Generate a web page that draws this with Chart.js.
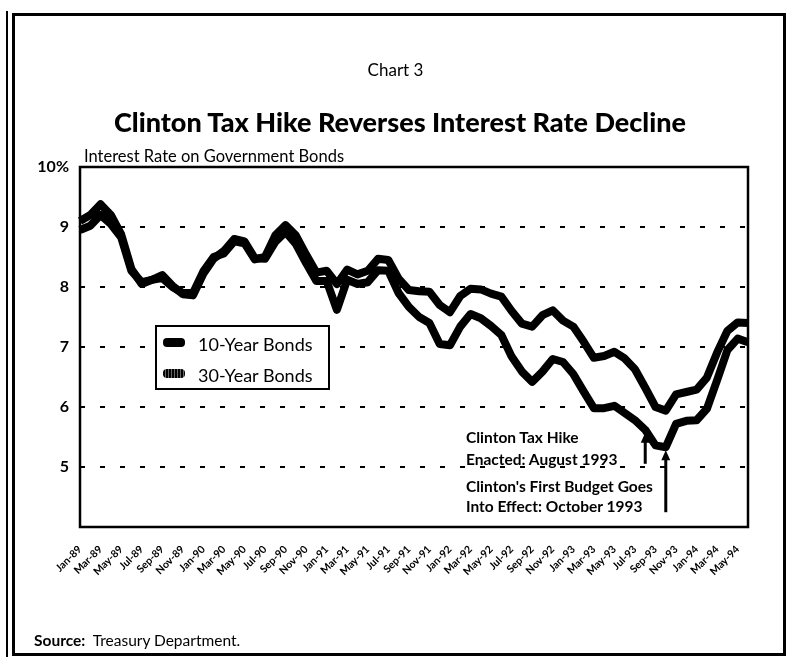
<!DOCTYPE html>
<html>
<head>
<meta charset="utf-8">
<title>Clinton Tax Hike Reverses Interest Rate Decline</title>
<script src="https://cdn.jsdelivr.net/npm/chart.js@4.4.1/dist/chart.umd.min.js"></script>
<style>
  html, body { margin: 0; padding: 0; background: #fff; }
  body { width: 791px; height: 664px; position: relative; overflow: hidden; font-family: Lato, "Open Sans", sans-serif; color: #000; }
  #chart { position: absolute; left: 0; top: 0; }
  .frame { position: absolute; left: 12px; top: 13px; width: 768px; height: 637px; border: 3px solid #000; }
  .frame-edge { position: absolute; left: 6px; top: 11px; width: 2px; height: 646px; background: #000; }
  .txt { position: absolute; white-space: nowrap; line-height: 1; }
  .chart-no { left: 0; width: 791px; text-align: center; top: 61px; font-size: 17px; }
  .title { left: 0; width: 800px; text-align: center; top: 108px; font-size: 27px; font-weight: 900; }
  .axis-title { left: 84px; top: 148px; font-size: 16.5px; }
  .legend { position: absolute; left: 155px; top: 325px; width: 171px; height: 61px; border: 2px solid #000; background: #fff; }
  .legend .row { position: absolute; left: 0; height: 20px; }
  .legend .swatch { position: absolute; left: 6px; top: 6px; width: 22px; height: 9px; border-radius: 4px; background: #000; }
  .legend .swatch.hatch { background: repeating-linear-gradient(90deg, #000 0 2px, #666 2px 3px); }
  .legend .label { position: absolute; left: 41px; top: 1px; font-size: 18px; white-space: nowrap; }
  .note { left: 466px; font-size: 15.5px; font-weight: bold; }
  .source { left: 34px; top: 633px; font-size: 15.5px; }
</style>
</head>
<body>
<canvas id="chart" width="791" height="664"></canvas>
<div class="frame-edge"></div>
<div class="frame"></div>

<div class="txt chart-no">Chart 3</div>
<div class="txt title">Clinton Tax Hike Reverses Interest Rate Decline</div>
<div class="txt axis-title">Interest Rate on Government Bonds</div>

<div class="legend">
  <div class="row" style="top:5px"><div class="swatch"></div><div class="label">10-Year Bonds</div></div>
  <div class="row" style="top:36px"><div class="swatch hatch"></div><div class="label">30-Year Bonds</div></div>
</div>

<div class="txt note" style="top:430px">Clinton Tax Hike</div>
<div class="txt note" style="top:452px">Enacted: August 1993</div>
<div class="txt note" style="top:479px">Clinton's First Budget Goes</div>
<div class="txt note" style="top:499px">Into Effect: October 1993</div>

<div class="txt source"><b>Source:</b>&nbsp; Treasury Department.</div>

<script>
// monthly averages, Jan-89 .. Jun-94
const months = [
  'Jan-89', 'Feb-89', 'Mar-89', 'Apr-89', 'May-89', 'Jun-89', 'Jul-89', 'Aug-89', 'Sep-89', 'Oct-89', 'Nov-89', 'Dec-89',
  'Jan-90', 'Feb-90', 'Mar-90', 'Apr-90', 'May-90', 'Jun-90', 'Jul-90', 'Aug-90', 'Sep-90', 'Oct-90', 'Nov-90', 'Dec-90',
  'Jan-91', 'Feb-91', 'Mar-91', 'Apr-91', 'May-91', 'Jun-91', 'Jul-91', 'Aug-91', 'Sep-91', 'Oct-91', 'Nov-91', 'Dec-91',
  'Jan-92', 'Feb-92', 'Mar-92', 'Apr-92', 'May-92', 'Jun-92', 'Jul-92', 'Aug-92', 'Sep-92', 'Oct-92', 'Nov-92', 'Dec-92',
  'Jan-93', 'Feb-93', 'Mar-93', 'Apr-93', 'May-93', 'Jun-93', 'Jul-93', 'Aug-93', 'Sep-93', 'Oct-93', 'Nov-93', 'Dec-93',
  'Jan-94', 'Feb-94', 'Mar-94', 'Apr-94', 'May-94', 'Jun-94'
];

const tenYear = [
  9.10, 9.20, 9.38, 9.20, 8.88, 8.30, 8.05, 8.12, 8.20, 8.02, 7.88, 7.86,
  8.22, 8.47, 8.60, 8.80, 8.76, 8.48, 8.47, 8.75, 8.92, 8.72, 8.40, 8.10,
  8.10, 7.62, 8.12, 8.05, 8.08, 8.28, 8.27, 7.90, 7.67, 7.50, 7.40, 7.05,
  7.03, 7.34, 7.55, 7.48, 7.35, 7.20, 6.84, 6.59, 6.42, 6.59, 6.80, 6.75,
  6.55, 6.26, 5.98, 5.98, 6.02, 5.90, 5.78, 5.62, 5.36, 5.33, 5.72, 5.77,
  5.78, 5.97, 6.45, 6.95, 7.14, 7.08
];

const thirtyYear = [
  8.95, 9.02, 9.20, 9.05, 8.83, 8.27, 8.08, 8.12, 8.15, 8.00, 7.90, 7.90,
  8.26, 8.50, 8.56, 8.76, 8.73, 8.46, 8.50, 8.86, 9.03, 8.86, 8.54, 8.24,
  8.27, 8.05, 8.29, 8.21, 8.27, 8.47, 8.45, 8.14, 7.95, 7.93, 7.92, 7.70,
  7.58, 7.85, 7.97, 7.96, 7.89, 7.84, 7.60, 7.39, 7.34, 7.53, 7.61, 7.44,
  7.34, 7.09, 6.82, 6.85, 6.92, 6.81, 6.63, 6.32, 6.00, 5.94, 6.21, 6.25,
  6.29, 6.49, 6.91, 7.27, 7.41, 7.40
];

const rateMin = 4;
const rateMax = 10;

// months marked with arrows under the 10-year line
const arrowMonths = ['Aug-93', 'Oct-93'];

// box round the plot area
const plotFrame = {
  id: 'plotFrame',
  afterDraw(chart) {
    const { ctx, chartArea: a } = chart;
    ctx.save();
    ctx.strokeStyle = '#000';
    ctx.lineWidth = 2.5;
    ctx.strokeRect(a.left, a.top, a.right - a.left, a.bottom - a.top);
    ctx.restore();
  }
};

// upward arrows pointing at the policy dates
const policyArrows = {
  id: 'policyArrows',
  afterDatasetsDraw(chart) {
    const { ctx, scales: { x, y } } = chart;
    const lengths = [31, 62];
    ctx.save();
    ctx.fillStyle = '#000';
    ctx.strokeStyle = '#000';
    ctx.lineWidth = 3;
    arrowMonths.forEach((m, k) => {
      const i = months.indexOf(m);
      const px = x.getPixelForValue(i);
      const tip = y.getPixelForValue(tenYear[i]) + 3;
      const tail = tip + lengths[k];
      ctx.beginPath();
      ctx.moveTo(px, tip + 8);
      ctx.lineTo(px, tail);
      ctx.stroke();
      ctx.beginPath();
      ctx.moveTo(px, tip);
      ctx.lineTo(px - 4.5, tip + 10);
      ctx.lineTo(px + 4.5, tip + 10);
      ctx.closePath();
      ctx.fill();
    });
    ctx.restore();
  }
};

new Chart(document.getElementById('chart'), {
  type: 'line',
  data: {
    labels: months,
    datasets: [
      {
        label: '10-Year Bonds',
        data: tenYear,
        borderColor: '#000',
        borderWidth: 8,
        borderJoinStyle: 'round',
        pointRadius: 0,
        tension: 0
      },
      {
        label: '30-Year Bonds',
        data: thirtyYear,
        borderColor: '#000',
        borderWidth: 8,
        borderJoinStyle: 'round',
        pointRadius: 0,
        tension: 0
      }
    ]
  },
  options: {
    responsive: false,
    animation: false,
    layout: { padding: { top: 167, right: 43, bottom: 77, left: 0 } },
    plugins: {
      legend: { display: false },
      tooltip: { enabled: false }
    },
    scales: {
      x: {
        grid: { display: false },
        border: { display: false },
        ticks: {
          autoSkip: false,
          maxRotation: 45,
          minRotation: 45,
          padding: 8,
          color: '#000',
          font: { family: 'Lato', size: 10.5, weight: 'bold' },
          callback(value, index) {
            return index % 2 === 0 ? months[index] : '';
          }
        },
        afterFit(scale) { scale.height = 60; }
      },
      y: {
        min: rateMin,
        max: rateMax,
        grid: {
          drawTicks: false,
          lineWidth: 2,
          color: ctx => (ctx.tick.value > rateMin && ctx.tick.value < rateMax) ? '#000' : 'rgba(0,0,0,0)'
        },
        border: { display: false, dash: [5, 15] },
        ticks: {
          stepSize: 1,
          padding: 11,
          color: '#000',
          font: { family: 'Lato', size: 16, weight: 'bold' },
          callback(value) {
            if (value === rateMin) return '';
            return value === rateMax ? value + '%' : value;
          }
        },
        afterFit(scale) { scale.width = 80; }
      }
    }
  },
  plugins: [plotFrame, policyArrows]
});
</script>
</body>
</html>
